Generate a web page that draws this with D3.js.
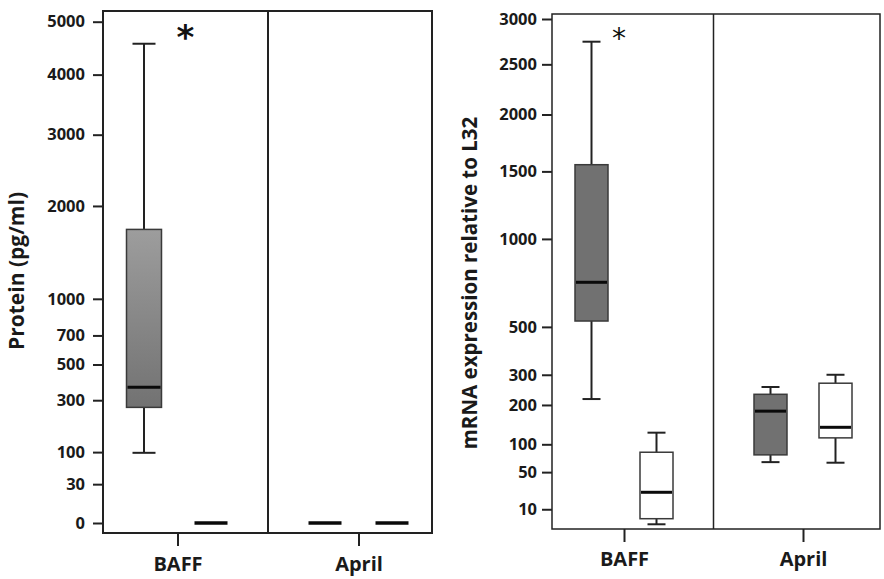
<!DOCTYPE html>
<html>
<head>
<meta charset="utf-8">
<script src="https://cdn.jsdelivr.net/npm/d3@7"></script>
<style>
  body { margin: 0; background: #fff; }
  text { font-family: "Open Sans", "DejaVu Sans", sans-serif; }
</style>
</head>
<body>
<svg id="chart" width="884" height="579"></svg>
<script>
// ---------- data ----------
const categories = ["BAFF", "April"];
// five-number summaries per category: [min, q1, median, q3, max]
const proteinGray  = [[98, 266, 366, 1715, 4570], [0, 0, 0, 0, 0]];
const proteinWhite = [[0, 0, 0, 0, 0], [0, 0, 0, 0, 0]];
const mrnaGray     = [[218, 528, 732, 1555, 2744], [66, 79, 182, 233, 257]];
const mrnaWhite    = [[2.5, 4.7, 24.5, 84, 126], [65, 114, 139, 270, 300]];
const proteinTicks = [0, 30, 100, 300, 500, 700, 1000, 2000, 3000, 4000, 5000];
const mrnaTicks    = [10, 50, 100, 200, 300, 500, 1000, 1500, 2000, 2500, 3000];
const proteinTitle = "Protein (pg/ml)";
const mrnaTitle    = "mRNA expression relative to L32";

const svg = d3.select("#chart");
const defs = svg.append("defs");
const grad = defs.append("linearGradient").attr("id", "gradGray")
  .attr("x1", 0).attr("y1", 0).attr("x2", 0).attr("y2", 1);
grad.append("stop").attr("offset", "0%").attr("stop-color", "#9d9d9d");
grad.append("stop").attr("offset", "100%").attr("stop-color", "#727272");

function panel(cfg) {
  const g = svg.append("g");
  const y = d3.scaleSqrt().domain(cfg.yDomain).range(cfg.yRange);
  const xg = d3.scalePoint().domain(categories).range(cfg.groupRange);
  const xs = d3.scalePoint().domain(["gray", "white"]).range([-cfg.offset, cfg.offset]);

  // frame
  g.append("rect")
    .attr("x", cfg.left).attr("y", cfg.top)
    .attr("width", cfg.right - cfg.left).attr("height", cfg.bottom - cfg.top)
    .attr("fill", "none").attr("stroke", "#222").attr("stroke-width", cfg.frameW);
  // divider between categories
  const mid = (xg(categories[0]) + xg(categories[1])) / 2;
  g.append("line").attr("x1", mid).attr("x2", mid)
    .attr("y1", cfg.top).attr("y2", cfg.bottom)
    .attr("stroke", "#222").attr("stroke-width", cfg.frameW);

  // y axis
  const ya = g.append("g").attr("transform", `translate(${cfg.left},0)`)
    .call(d3.axisLeft(y).tickValues(cfg.ticks).tickSize(10).tickPadding(cfg.pad).tickFormat(d3.format("d")));
  ya.select(".domain").remove();
  ya.selectAll(".tick line").attr("stroke", "#222").attr("stroke-width", 2);
  ya.selectAll(".tick text").attr("fill", "#1a1a1a").style("font-size", "16.5px").style("font-weight", "700")
    .style("font-family", '"Open Sans", sans-serif');

  // x axis (category ticks)
  const xa = g.append("g").attr("transform", `translate(0,${cfg.bottom})`)
    .call(d3.axisBottom(xg).tickSize(13).tickPadding(cfg.xpad));
  xa.select(".domain").remove();
  xa.selectAll(".tick line").attr("stroke", "#222").attr("stroke-width", 2);
  xa.selectAll(".tick text").attr("fill", "#1a1a1a").style("font-size", "20px").style("font-weight", "700")
    .style("font-family", '"Open Sans", sans-serif').attr("dy", "0.71em");

  // y title
  g.append("text")
    .attr("transform", `translate(${cfg.titleX},${cfg.titleY}) rotate(-90)`)
    .attr("text-anchor", "middle")
    .style("font-size", cfg.titleSize + "px").style("font-weight", "700").attr("fill", "#1a1a1a")
    .text(cfg.title);

  // boxes
  const series = [
    { key: "gray", data: cfg.gray, fill: cfg.grayFill },
    { key: "white", data: cfg.white, fill: "#ffffff" }
  ];
  series.forEach(s => {
    categories.forEach((c, i) => {
      const [mn, q1, md, q3, mx] = s.data[i];
      const cx = xg(c) + xs(s.key);
      const bw = cfg.boxW, cw = cfg.capW;
      const bg = g.append("g");
      if (mx > q3) {
        bg.append("line").attr("x1", cx).attr("x2", cx).attr("y1", y(q3)).attr("y2", y(mx))
          .attr("stroke", "#222").attr("stroke-width", 2);
        bg.append("line").attr("x1", cx - cw / 2).attr("x2", cx + cw / 2).attr("y1", y(mx)).attr("y2", y(mx))
          .attr("stroke", "#222").attr("stroke-width", 2);
      }
      if (mn < q1) {
        bg.append("line").attr("x1", cx).attr("x2", cx).attr("y1", y(q1)).attr("y2", y(mn))
          .attr("stroke", "#222").attr("stroke-width", 2);
        bg.append("line").attr("x1", cx - cw / 2).attr("x2", cx + cw / 2).attr("y1", y(mn)).attr("y2", y(mn))
          .attr("stroke", "#222").attr("stroke-width", 2);
      }
      if (q3 > q1) {
        bg.append("rect").attr("x", cx - bw / 2).attr("width", bw)
          .attr("y", y(q3)).attr("height", y(q1) - y(q3))
          .attr("fill", s.fill).attr("stroke", "#3a3a3a").attr("stroke-width", 1.5);
      }
      bg.append("line").attr("x1", cx - bw / 2 + 1).attr("x2", cx + bw / 2 - 1)
        .attr("y1", y(md)).attr("y2", y(md))
        .attr("stroke", "#0a0a0a").attr("stroke-width", q3 > q1 ? 3 : 3.5);
    });
  });

  // significance asterisk
  g.append("text")
    .attr("x", xg(categories[0]) + cfg.starDx).attr("y", y(cfg.starV))
    .attr("text-anchor", "middle").attr("dominant-baseline", "central")
    .style("font-family", '"DejaVu Sans", sans-serif')
    .style("font-size", cfg.starSize + "px").style("font-weight", cfg.starWeight)
    .attr("fill", "#111").text("*");
}

panel({
  left: 103, right: 432, top: 11, bottom: 533,
  yDomain: [0, 5000], yRange: [523, 21.7], ticks: proteinTicks, pad: 8, xpad: 11,
  groupRange: [177.5, 358.5], offset: 33.5, boxW: 35, capW: 23,
  gray: proteinGray, white: proteinWhite, grayFill: "url(#gradGray)",
  title: proteinTitle, titleX: 24, titleY: 271, titleSize: 21, frameW: 2,
  starDx: 8, starV: 4700, starSize: 34, starWeight: 700
});

panel({
  left: 552, right: 880, top: 14, bottom: 529,
  yDomain: [0, 3000], yRange: [539.3, 19], ticks: mrnaTicks, pad: 5, xpad: 10,
  groupRange: [624, 803], offset: 32.5, boxW: 33, capW: 18,
  gray: mrnaGray, white: mrnaWhite, grayFill: "#717171",
  title: mrnaTitle, titleX: 477, titleY: 283, titleSize: 20.5, frameW: 1.5,
  starDx: -5, starV: 2780, starSize: 28, starWeight: 400
});
</script>
</body>
</html>
